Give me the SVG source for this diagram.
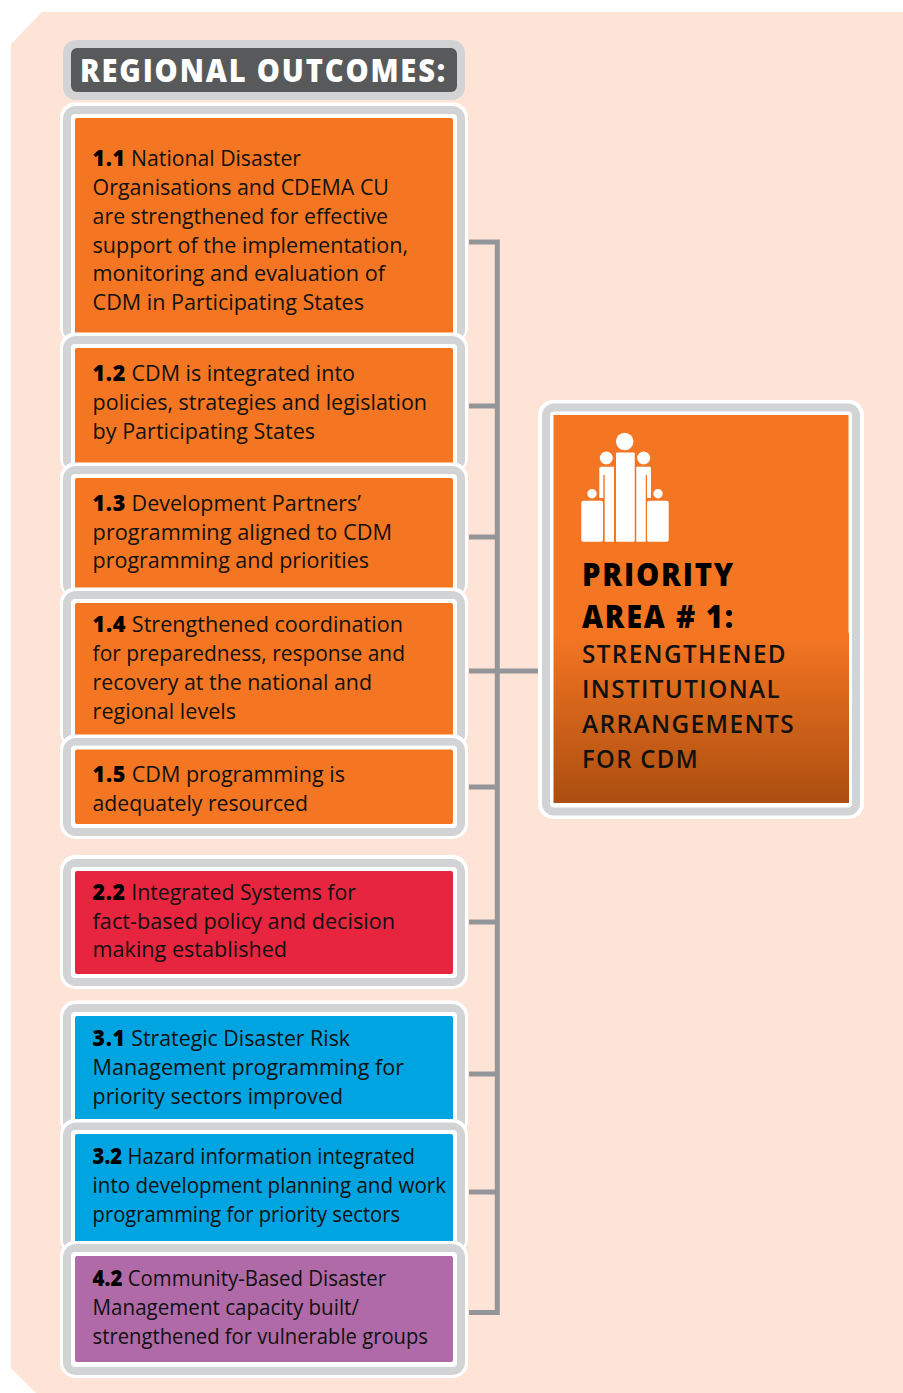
<svg xmlns="http://www.w3.org/2000/svg" width="903" height="1393" viewBox="0 0 903 1393">
<style>
text{font-family:"Open Sans","Noto Sans","Liberation Sans",sans-serif;fill:#111}
.t{font-size:22.5px}
.t tspan{font-weight:800;fill:#000;letter-spacing:.7px}
.t tspan.n{letter-spacing:0}
.o{fill:#fff}
.g{fill:#d1d3d4}
.c{fill:none;stroke:#939598;stroke-width:5}
.h{font-size:32px;font-weight:800;fill:#fff;letter-spacing:2px}
.p{font-size:32px;font-weight:800;fill:#000;letter-spacing:2px}
.s{font-size:26px;font-weight:600;letter-spacing:1.500px}
.i{fill:#fff}
</style>
<defs><linearGradient id="grad" x1="0" y1="0" x2="0" y2="1"><stop offset="0" stop-color="#f57622"/><stop offset="1" stop-color="#ab4e10"/></linearGradient></defs>
<path id="background" d="M42 12H903V1393H36L11 1368V44Z" fill="#fee3d7"/>
<g id="connectors">
<path class="c" d="M469 242H497.3V1312.5H469"/>
<path class="c" d="M469 406H497M469 537H497M469 671H538M469 787H497M469 922H497M469 1074H497M469 1192H497"/>
</g>
<g id="header">
<rect x="63" y="40" width="402" height="60" rx="13" class="g"/>
<rect x="71" y="48" width="386" height="44" rx="6" fill="#58595b"/>
<text class="h" x="80" y="82" textLength="367" lengthAdjust="spacingAndGlyphs">REGIONAL OUTCOMES:</text>
</g>
<g id="outcome-1-1">
<rect class="o" x="60" y="102.5" width="408" height="240" rx="15"/><rect class="g" x="63" y="106" width="402" height="236" rx="13"/><rect class="o" x="71" y="114" width="386" height="228" rx="4"/><rect x="75" y="118" width="378" height="224" rx="2" fill="#f57622"/>
<text class="t" x="92.600" y="166" textLength="208.400" lengthAdjust="spacingAndGlyphs"><tspan>1.1</tspan> National Disaster</text>
<text class="t" x="92.600" y="195" textLength="296.400" lengthAdjust="spacingAndGlyphs">Organisations and CDEMA CU</text>
<text class="t" x="92.600" y="223.700" textLength="295.400" lengthAdjust="spacingAndGlyphs">are strengthened for effective</text>
<text class="t" x="92.600" y="252.500" textLength="315.400" lengthAdjust="spacingAndGlyphs">support of the implementation,</text>
<text class="t" x="92.600" y="281.300" textLength="292.400" lengthAdjust="spacingAndGlyphs">monitoring and evaluation of</text>
<text class="t" x="92.600" y="310.100" textLength="271.400" lengthAdjust="spacingAndGlyphs">CDM in Participating States</text>
</g>
<g id="outcome-1-2">
<rect class="o" x="60" y="332.5" width="408" height="140" rx="15"/><rect class="g" x="63" y="336" width="402" height="136" rx="13"/><rect class="o" x="71" y="344" width="386" height="128" rx="4"/><rect x="75" y="348" width="378" height="124" rx="2" fill="#f57622"/>
<text class="t" x="92.600" y="381" textLength="262.400" lengthAdjust="spacingAndGlyphs"><tspan>1.2</tspan> CDM is integrated into</text>
<text class="t" x="92.600" y="409.800" textLength="334.400" lengthAdjust="spacingAndGlyphs">policies, strategies and legislation</text>
<text class="t" x="92.600" y="438.500" textLength="222.400" lengthAdjust="spacingAndGlyphs">by Participating States</text>
</g>
<g id="outcome-1-3">
<rect class="o" x="60" y="462.5" width="408" height="135" rx="15"/><rect class="g" x="63" y="466" width="402" height="131" rx="13"/><rect class="o" x="71" y="474" width="386" height="123" rx="4"/><rect x="75" y="478" width="378" height="119" rx="2" fill="#f57622"/>
<text class="t" x="92.600" y="511" textLength="268.400" lengthAdjust="spacingAndGlyphs"><tspan>1.3</tspan> Development Partners’</text>
<text class="t" x="92.600" y="539.800" textLength="299.400" lengthAdjust="spacingAndGlyphs">programming aligned to CDM</text>
<text class="t" x="92.600" y="568" textLength="276.400" lengthAdjust="spacingAndGlyphs">programming and priorities</text>
</g>
<g id="outcome-1-4">
<rect class="o" x="60" y="587.5" width="408" height="160" rx="15"/><rect class="g" x="63" y="591" width="402" height="156" rx="13"/><rect class="o" x="71" y="599" width="386" height="148" rx="4"/><rect x="75" y="603" width="378" height="144" rx="2" fill="#f57622"/>
<text class="t" x="92.600" y="632" textLength="310.400" lengthAdjust="spacingAndGlyphs"><tspan>1.4</tspan> Strengthened coordination</text>
<text class="t" x="92.600" y="661" textLength="312.400" lengthAdjust="spacingAndGlyphs">for preparedness, response and</text>
<text class="t" x="92.600" y="690" textLength="279.400" lengthAdjust="spacingAndGlyphs">recovery at the national and</text>
<text class="t" x="92.600" y="719" textLength="143.400" lengthAdjust="spacingAndGlyphs">regional levels</text>
</g>
<g id="outcome-1-5">
<rect class="o" x="60" y="734.5" width="408" height="104.500" rx="15"/><rect class="g" x="63" y="738" width="402" height="98" rx="13"/><rect class="o" x="71" y="745.500" width="386" height="82.500" rx="4"/><rect x="75" y="749.500" width="378" height="74.500" rx="2" fill="#f57622"/>
<text class="t" x="92.600" y="782" textLength="252.400" lengthAdjust="spacingAndGlyphs"><tspan>1.5</tspan> CDM programming is</text>
<text class="t" x="92.600" y="811" textLength="215.400" lengthAdjust="spacingAndGlyphs">adequately resourced</text>
</g>
<g id="outcome-2-2">
<rect class="o" x="60" y="855" width="408" height="134" rx="15"/><rect class="g" x="63" y="859" width="402" height="127" rx="13"/><rect class="o" x="71" y="867" width="386" height="111" rx="4"/><rect x="75" y="871" width="378" height="103" rx="2" fill="#e8253f"/>
<text class="t" x="92.600" y="900" textLength="263.400" lengthAdjust="spacingAndGlyphs"><tspan>2.2</tspan> Integrated Systems for</text>
<text class="t" x="92.600" y="928.600" textLength="302.400" lengthAdjust="spacingAndGlyphs">fact-based policy and decision</text>
<text class="t" x="92.600" y="957.400" textLength="194.400" lengthAdjust="spacingAndGlyphs">making established</text>
</g>
<g id="outcome-3-1">
<rect class="o" x="60" y="1000.500" width="408" height="135" rx="15"/><rect class="g" x="63" y="1004" width="402" height="131" rx="13"/><rect class="o" x="71" y="1012" width="386" height="123" rx="4"/><rect x="75" y="1016" width="378" height="119" rx="2" fill="#00a4e1"/>
<text class="t" x="92.600" y="1046" textLength="257.400" lengthAdjust="spacingAndGlyphs"><tspan>3.1</tspan> Strategic Disaster Risk</text>
<text class="t" x="92.600" y="1075" textLength="311.400" lengthAdjust="spacingAndGlyphs">Management programming for</text>
<text class="t" x="92.600" y="1103.600" textLength="250.400" lengthAdjust="spacingAndGlyphs">priority sectors improved</text>
</g>
<g id="outcome-3-2">
<rect class="o" x="60" y="1119" width="408" height="135" rx="15"/><rect class="g" x="63" y="1122.500" width="402" height="131" rx="13"/><rect class="o" x="71" y="1130" width="386" height="123" rx="4"/><rect x="75" y="1134" width="378" height="119" rx="2" fill="#00a4e1"/>
<text class="t" x="92.600" y="1164" textLength="322.400" lengthAdjust="spacingAndGlyphs"><tspan class="n">3.2</tspan> Hazard information integrated</text>
<text class="t" x="92.600" y="1193" textLength="353.400" lengthAdjust="spacingAndGlyphs">into development planning and work</text>
<text class="t" x="92.600" y="1222" textLength="307.400" lengthAdjust="spacingAndGlyphs">programming for priority sectors</text>
</g>
<g id="outcome-4-2">
<rect class="o" x="60" y="1241" width="408" height="137" rx="15"/><rect class="g" x="63" y="1244" width="402" height="131" rx="13"/><rect class="o" x="71" y="1252" width="386" height="115" rx="4"/><rect x="75" y="1256" width="378" height="106" rx="2" fill="#b06aa7"/>
<text class="t" x="92.600" y="1286" textLength="293.400" lengthAdjust="spacingAndGlyphs"><tspan class="n">4.2</tspan> Community-Based Disaster</text>
<text class="t" x="92.600" y="1315" textLength="266.400" lengthAdjust="spacingAndGlyphs">Management capacity built/</text>
<text class="t" x="92.600" y="1343.800" textLength="335.400" lengthAdjust="spacingAndGlyphs">strengthened for vulnerable groups</text>
</g>
<g id="priority-area-1">
<rect class="o" x="538" y="400" width="326" height="419" rx="15"/><rect class="g" x="542" y="403.500" width="318" height="412" rx="12"/><rect class="o" x="550" y="411.500" width="302" height="396" rx="4"/>
<rect x="553.500" y="415" width="295" height="218" fill="#f57622"/>
<rect x="553.500" y="633" width="295.500" height="170" fill="url(#grad)"/>
<g id="people-icon">
<circle class="i" cx="624.700" cy="441.500" r="8.700"/>
<rect class="i" x="616" y="452.500" width="18.700" height="89.200" rx="1"/>
<circle class="i" cx="606.300" cy="458" r="6.500"/><circle class="i" cx="643.700" cy="458" r="6.500"/>
<path class="i" d="M600.500 466.700H614V541.700H604.700V475H603.300V498H599.300V468Z"/>
<path class="i" d="M636.300 466.700H649.800L651 468V498H647V475H645.700V541.700H636.300Z"/>
<circle class="i" cx="592" cy="493.700" r="4.700"/><circle class="i" cx="658" cy="493.700" r="4.700"/>
<rect class="i" x="581.300" y="500.700" width="21.700" height="41" rx="2"/>
<rect class="i" x="647" y="500.700" width="21.700" height="41" rx="2"/>
</g>
<text class="p" x="582" y="586" textLength="153" lengthAdjust="spacingAndGlyphs">PRIORITY</text>
<text class="p" x="582" y="627.500" textLength="153" lengthAdjust="spacingAndGlyphs">AREA # 1:</text>
<text class="s" x="582" y="663" textLength="205" lengthAdjust="spacingAndGlyphs">STRENGTHENED</text>
<text class="s" x="582" y="698" textLength="199" lengthAdjust="spacingAndGlyphs">INSTITUTIONAL</text>
<text class="s" x="582" y="733" textLength="213" lengthAdjust="spacingAndGlyphs">ARRANGEMENTS</text>
<text class="s" x="582" y="768" textLength="117" lengthAdjust="spacingAndGlyphs">FOR CDM</text>
</g>
</svg>
